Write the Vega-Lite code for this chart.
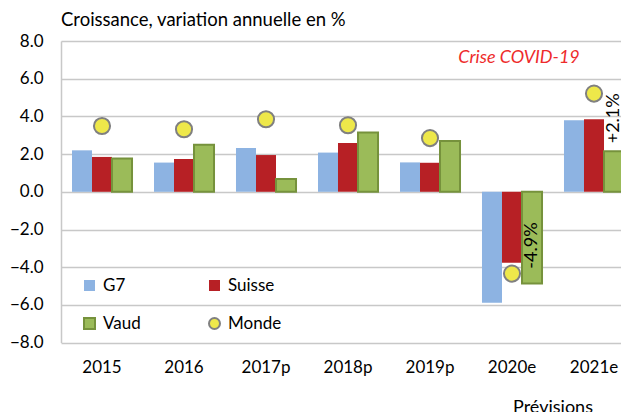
{
  "$schema": "https://vega.github.io/schema/vega-lite/v6.json",
  "width": 560,
  "height": 301.6,
  "autosize": "none",
  "padding": {"left": 61, "top": 41, "right": 0, "bottom": 69.4},
  "background": "white",
  "config": {
    "font": "Lato",
    "view": {"stroke": null},
    "axis": {"labelFont": "Lato", "labelFontSize": 17, "labelColor": "#000000", "ticks": false, "title": null},
    "legend": {"labelFont": "Lato", "labelFontSize": 17, "labelColor": "#000000"}
  },
  "title": {"text": "Croissance, variation annuelle en %", "anchor": "start", "frame": "group", "font": "Lato", "fontSize": 18.5, "fontWeight": "normal", "color": "#000000", "offset": 3},
  "datasets": {
    "bars": [
      {"year": "2015", "series": "G7", "value": 2.2},
      {"year": "2015", "series": "Suisse", "value": 1.85},
      {"year": "2015", "series": "Vaud", "value": 1.76},
      {"year": "2016", "series": "G7", "value": 1.55},
      {"year": "2016", "series": "Suisse", "value": 1.74},
      {"year": "2016", "series": "Vaud", "value": 2.5},
      {"year": "2017p", "series": "G7", "value": 2.32},
      {"year": "2017p", "series": "Suisse", "value": 1.95},
      {"year": "2017p", "series": "Vaud", "value": 0.68},
      {"year": "2018p", "series": "G7", "value": 2.08},
      {"year": "2018p", "series": "Suisse", "value": 2.59},
      {"year": "2018p", "series": "Vaud", "value": 3.14},
      {"year": "2019p", "series": "G7", "value": 1.56},
      {"year": "2019p", "series": "Suisse", "value": 1.54},
      {"year": "2019p", "series": "Vaud", "value": 2.69},
      {"year": "2020e", "series": "G7", "value": -5.88},
      {"year": "2020e", "series": "Suisse", "value": -3.76},
      {"year": "2020e", "series": "Vaud", "value": -4.87},
      {"year": "2021e", "series": "G7", "value": 3.79},
      {"year": "2021e", "series": "Suisse", "value": 3.85},
      {"year": "2021e", "series": "Vaud", "value": 2.15}
    ],
    "monde": [
      {"year": "2015", "series": "Monde", "value": 3.49},
      {"year": "2016", "series": "Monde", "value": 3.32},
      {"year": "2017p", "series": "Monde", "value": 3.85},
      {"year": "2018p", "series": "Monde", "value": 3.53},
      {"year": "2019p", "series": "Monde", "value": 2.85},
      {"year": "2020e", "series": "Monde", "value": -4.34},
      {"year": "2021e", "series": "Monde", "value": 5.21}
    ],
    "labels": [
      {"year": "2020e", "series": "Vaud", "label": "-4.9%", "value": -2.85},
      {"year": "2021e", "series": "Vaud", "label": "+2.1%", "value": 3.9}
    ],
    "notes": [
      {"year": "2020e", "note": "Crise COVID-19", "value": 7.1}
    ],
    "foot": [
      {"year": "2021e", "note": "Prévisions", "value": -11.45}
    ]
  },
  "encoding": {
    "x": {
      "field": "year", "type": "nominal", "sort": null,
      "scale": {"type": "band", "domain": ["2015", "2016", "2017p", "2018p", "2019p", "2020e", "2021e"], "range": [0, 574], "paddingInner": 0.268, "paddingOuter": 0.134},
      "axis": {"orient": "bottom", "domain": false, "grid": false, "labelAngle": 0, "labelPadding": 17}
    },
    "y": {
      "field": "value", "type": "quantitative",
      "scale": {"domain": [-8, 8], "nice": false, "zero": false},
      "axis": {"values": [-8, -6, -4, -2, 0, 2, 4, 6, 8], "format": ".1f", "labelOverlap": false, "grid": true, "gridColor": "#C8C8C8", "gridWidth": 1.5, "domain": true, "domainColor": "#C8C8C8", "domainWidth": 1.5, "labelPadding": 18}
    }
  },
  "layer": [
    {
      "data": {"name": "bars"},
      "mark": {"type": "bar", "strokeWidth": 2},
      "encoding": {
        "xOffset": {"field": "series", "type": "nominal", "scale": {"domain": ["G7", "Suisse", "Vaud"]}},
        "color": {
          "field": "series", "type": "nominal",
          "scale": {"domain": ["G7", "Suisse", "Vaud", "Monde"], "range": ["#8DB3E2", "#B72025", "#9BBB59", "#EEE84A"]},
          "legend": {"title": null, "orient": "none", "legendX": 20, "legendY": 236, "direction": "horizontal", "columns": 2, "columnPadding": 64, "rowPadding": 19, "symbolSize": 121, "symbolStrokeWidth": 2, "labelOffset": 5, "padding": 0}
        },
        "stroke": {
          "field": "series", "type": "nominal",
          "scale": {"domain": ["G7", "Suisse", "Vaud", "Monde"], "range": ["transparent", "transparent", "#76923C", "#808080"]},
          "legend": {"title": null, "orient": "none", "legendX": 20, "legendY": 236, "direction": "horizontal", "columns": 2, "columnPadding": 64, "rowPadding": 19, "symbolSize": 121, "symbolStrokeWidth": 2, "labelOffset": 5, "padding": 0}
        }
      }
    },
    {
      "data": {"name": "monde"},
      "mark": {"type": "point", "filled": true, "size": 260, "strokeWidth": 2, "opacity": 1},
      "encoding": {
        "color": {"field": "series", "type": "nominal"},
        "stroke": {"field": "series", "type": "nominal"},
        "shape": {
          "field": "series", "type": "nominal",
          "scale": {"domain": ["G7", "Suisse", "Vaud", "Monde"], "range": ["square", "square", "square", "circle"]},
          "legend": {"title": null, "orient": "none", "legendX": 20, "legendY": 236, "direction": "horizontal", "columns": 2, "columnPadding": 64, "rowPadding": 19, "symbolSize": 121, "symbolStrokeWidth": 2, "labelOffset": 5, "padding": 0}
        }
      }
    },
    {
      "data": {"name": "labels"},
      "mark": {"type": "text", "angle": 270, "fontSize": 18, "font": "Lato", "color": "#000000", "align": "center", "baseline": "middle"},
      "encoding": {
        "xOffset": {"field": "series", "type": "nominal"},
        "text": {"field": "label"}
      }
    },
    {
      "data": {"name": "notes"},
      "mark": {"type": "text", "fontSize": 18, "font": "Lato", "fontStyle": "italic", "color": "#EE2B2B", "align": "center", "baseline": "middle", "dx": 7},
      "encoding": {
        "text": {"field": "note"}
      }
    },
    {
      "data": {"name": "foot"},
      "mark": {"type": "text", "fontSize": 18, "font": "Lato", "color": "#000000", "align": "center", "baseline": "middle", "dx": -41},
      "encoding": {
        "text": {"field": "note"}
      }
    }
  ]
}
